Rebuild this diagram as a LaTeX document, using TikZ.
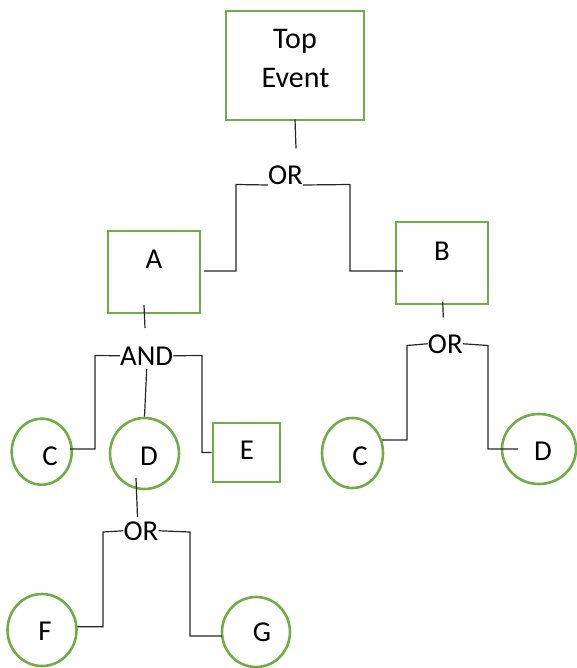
\documentclass[tikz,border=0pt]{standalone}
\usepackage{fontspec}
\setmainfont{Carlito}
\usetikzlibrary{shapes.geometric}
\definecolor{egreen}{RGB}{112,173,71}
\begin{document}
\begin{tikzpicture}[x=1pt,y=-1pt,
 gbox/.style={draw=egreen,line width=2.6pt,rectangle,inner sep=0pt},
 gcirc/.style={draw=egreen,line width=2.6pt,ellipse,inner sep=0pt},
 lbl/.style={font=\fontsize{28.8}{34}\selectfont,inner sep=0pt,anchor=base},
 conn/.style={draw=black!85,line width=1.2pt}]
\useasboundingbox (0,0) rectangle (576,668);
% event boxes
\node[gbox,minimum width=138pt,minimum height=109pt] (top) at (295,65.5) {};
\node[gbox,minimum width=92pt,minimum height=82pt] (A) at (154,272) {};
\node[gbox,minimum width=92pt,minimum height=82pt] (B) at (442,263) {};
\node[gbox,minimum width=67pt,minimum height=59pt] (E) at (246.5,452.5) {};
% basic events
\node[gcirc,minimum width=60pt,minimum height=66pt] (C1) at (41.7,451.7) {};
\node[gcirc,minimum width=69pt,minimum height=71pt] (D1) at (144.5,453.5) {};
\node[gcirc,minimum width=61pt,minimum height=70pt] (C2) at (352.5,453) {};
\node[gcirc,minimum width=74pt,minimum height=70pt] (D2) at (539,449) {};
\node[gcirc,minimum width=69pt,minimum height=72pt] (F) at (42,630) {};
\node[gcirc,minimum width=68pt,minimum height=70pt] (G) at (256,632) {};
% labels
\node[lbl,font=\fontsize{30}{36}\selectfont] (tTop) at (295,49) {Top};
\node[lbl,font=\fontsize{30}{36}\selectfont] (tEvent) at (295.5,88) {Event};
\node[lbl] (tA) at (154,268) {A};
\node[lbl] (tB) at (442,260) {B};
\node[lbl] (tE) at (247,459) {E};
\node[lbl] (tC1) at (50,465) {C};
\node[lbl] (tD1) at (149,465) {D};
\node[lbl] (tC2) at (360,465) {C};
\node[lbl] (tD2) at (543,460) {D};
\node[lbl] (tF) at (45,640) {F};
\node[lbl] (tG) at (262,641.7) {G};
% gates
\node[lbl] (or1) at (285.5,185) {OR};
\node[lbl] (and) at (146.7,365) {AND};
\node[lbl] (or2) at (445.3,353) {OR};
\node[lbl] (or3) at (141,540) {OR};
% connectors
\draw[conn] ([yshift=2pt]top.south) -- ++(1,29);
\draw[conn] (or1.base west) -- (236,184.5) -- (236,271) -- (204,271);
\draw[conn] (or1.base east) -- (350,184.5) -- (350,271) -- (403,271);
\draw[conn] (144,305) -- (145,328);
\draw[conn] (and.west) -- (95,355.5) -- (95,449) -- (70,449);
\draw[conn] ([yshift=-4pt]and.south) -- (D1.north);
\draw[conn] (and.east) -- (202,355.5) -- (202,452.5) -- (E.west);
\draw[conn] (136,478) -- (137.5,517);
\draw[conn] (or3.west) -- (103,532) -- (103,626.7) -- (77.3,626.7);
\draw[conn] (or3.east) -- (190,532) -- (190,636) -- (222,636);
\draw[conn] (442.7,301.7) -- (443.3,317.3);
\draw[conn] (or2.west) -- (407,345.5) -- (407,440) -- (382,440);
\draw[conn] (or2.east) -- (488,345.5) -- (488,449) -- (518,449);
\end{tikzpicture}
\end{document}
